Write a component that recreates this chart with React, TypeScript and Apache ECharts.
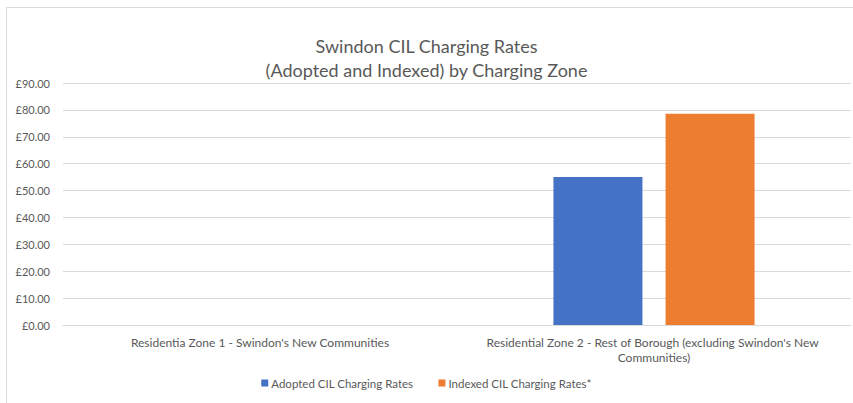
import React, { useEffect, useRef } from "react";
import * as echarts from "echarts";

const categories = [
  "Residentia Zone 1 - Swindon's New Communities",
  "Residential Zone 2 - Rest of Borough (excluding Swindon's New Communities)",
];
const adoptedRates = [0, 55];
const indexedRates = [0, 78.6];
const seriesNames = ["Adopted CIL Charging Rates", "Indexed CIL Charging Rates*"];
const titleText = "Swindon CIL Charging Rates\n(Adopted and Indexed) by Charging Zone";

const FONT = "Lato, 'Open Sans', sans-serif";
const GREY = "#595959";

export default function App() {
  const ref = useRef<HTMLDivElement>(null);
  useEffect(() => {
    if (!ref.current) return;
    const chart = echarts.init(ref.current, null, { renderer: "svg" });
    chart.setOption({
      animation: false,
      backgroundColor: "#ffffff",
      textStyle: { fontFamily: FONT },
      title: {
        text: titleText,
        left: "center",
        top: 29,
        textStyle: {
          fontFamily: FONT,
          fontSize: 18,
          fontWeight: "normal",
          color: GREY,
          lineHeight: 24,
        },
      },
      graphic: [
        {
          type: "rect",
          shape: { x: 6.5, y: 7.5, width: 900, height: 500 },
          style: { fill: "none", stroke: "#d9d9d9", lineWidth: 1 },
          silent: true,
          z: -1,
        },
      ],
      legend: {
        bottom: 9,
        left: "center",
        itemWidth: 7,
        itemHeight: 7,
        itemGap: 25,
        icon: "rect",
        textStyle: { fontFamily: FONT, fontSize: 11.5, color: GREY, padding: [0, 0, 0, -2] },
        data: seriesNames,
      },
      grid: { left: 63, right: 2, top: 83, bottom: 78, containLabel: false },
      xAxis: {
        type: "category",
        data: categories,
        axisLine: { lineStyle: { color: "#d9d9d9" } },
        axisTick: { show: false },
        axisLabel: {
          color: GREY,
          fontFamily: FONT,
          fontSize: 12,
          margin: 10,
          width: 345,
          overflow: "break",
          lineHeight: 15,
          interval: 0,
        },
      },
      yAxis: {
        type: "value",
        min: 0,
        max: 90,
        interval: 10,
        axisLine: { show: false },
        axisTick: { show: false },
        splitLine: { lineStyle: { color: "#d9d9d9", width: 1 } },
        axisLabel: {
          color: GREY,
          fontFamily: FONT,
          fontSize: 11,
          margin: 13,
          formatter: (v: number) => "£" + v.toFixed(2),
        },
      },
      series: [
        {
          name: seriesNames[0],
          type: "bar",
          data: adoptedRates,
          barWidth: 89,
          barGap: "26%",
          itemStyle: { color: "#4472C4" },
        },
        {
          name: seriesNames[1],
          type: "bar",
          data: indexedRates,
          barWidth: 89,
          barGap: "26%",
          itemStyle: { color: "#ED7D31" },
        },
      ],
    });
    return () => chart.dispose();
  }, []);
  return (
    <div
      ref={ref}
      style={{ position: "absolute", left: 0, top: 0, width: 853, height: 403 }}
    />
  );
}
